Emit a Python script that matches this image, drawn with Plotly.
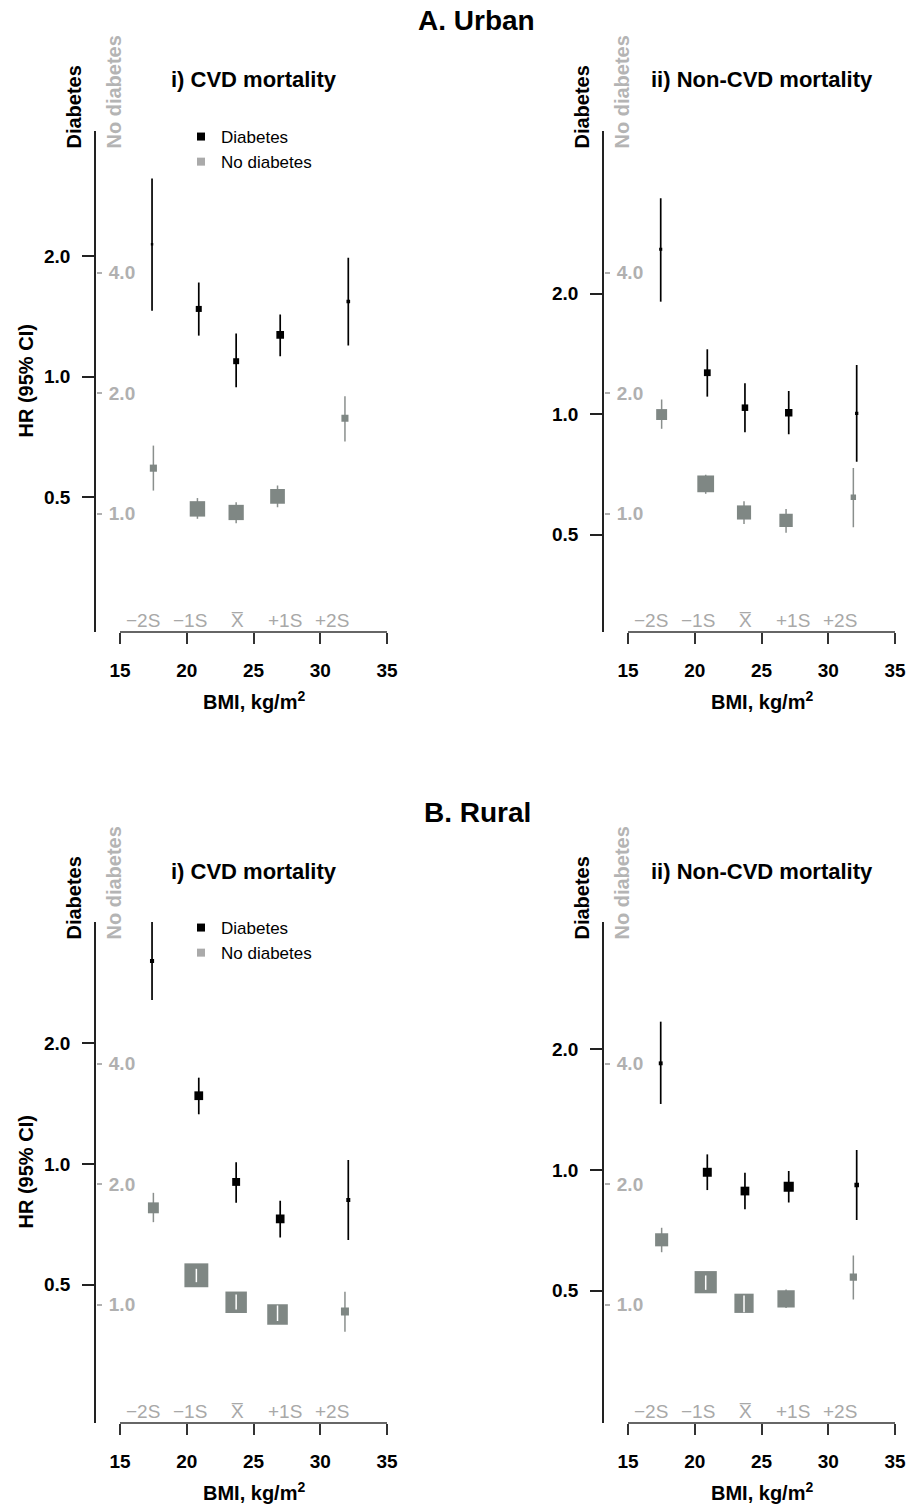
import math
import plotly.graph_objects as go

W, H = 910, 1506

# ---------------- Data ----------------
# A. Urban – i) CVD mortality
a1_dm_x = [17.4, 20.9, 23.7, 27.0, 32.1]
a1_dm_hr = [2.14, 1.475, 1.092, 1.271, 1.539]
a1_dm_lo = [1.46, 1.265, 0.94, 1.124, 1.195]
a1_dm_hi = [3.125, 1.717, 1.28, 1.429, 1.98]
a1_nd_x = [17.5, 20.8, 23.7, 26.8, 31.85]
a1_nd_hr = [1.298, 1.027, 1.006, 1.103, 1.73]
a1_nd_lo = [1.141, 0.970, 0.946, 1.037, 1.513]
a1_nd_hi = [1.478, 1.093, 1.067, 1.175, 1.963]

# A. Urban – ii) Non-CVD mortality
a2_dm_x = [17.45, 20.94, 23.76, 27.04, 32.13]
a2_dm_hr = [2.579, 1.268, 1.037, 1.0075, 1.004]
a2_dm_lo = [1.908, 1.105, 0.90, 0.89, 0.76]
a2_dm_hi = [3.458, 1.451, 1.193, 1.141, 1.326]
a2_nd_x = [17.52, 20.82, 23.69, 26.84, 31.88]
a2_nd_hr = [1.767, 1.186, 1.006, 0.961, 1.098]
a2_nd_lo = [1.628, 1.12, 0.942, 0.895, 0.924]
a2_nd_hi = [1.927, 1.25, 1.073, 1.027, 1.30]

# B. Rural – i) CVD mortality
b1_dm_x = [17.4, 20.9, 23.7, 27.0, 32.1]
b1_dm_hr = [3.215, 1.481, 0.902, 0.729, 0.813]
b1_dm_lo = [2.57, 1.331, 0.80, 0.655, 0.646]
b1_dm_hi = [4.02, 1.643, 1.01, 0.81, 1.023]
b1_nd_x = [17.5, 20.72, 23.7, 26.8, 31.85]
b1_nd_hr = [1.744, 1.183, 1.013, 0.944, 0.961]
b1_nd_lo = [1.606, 1.137, 0.972, 0.909, 0.855]
b1_nd_hi = [1.901, 1.228, 1.059, 0.994, 1.076]

# B. Rural – ii) Non-CVD mortality
b2_dm_x = [17.45, 20.94, 23.76, 27.04, 32.13]
b2_dm_hr = [1.847, 0.987, 0.886, 0.908, 0.917]
b2_dm_lo = [1.462, 0.891, 0.798, 0.829, 0.75]
b2_dm_hi = [2.347, 1.094, 0.985, 0.994, 1.122]
b2_nd_x = [17.52, 20.82, 23.69, 26.84, 31.88]
b2_nd_hr = [1.451, 1.137, 1.007, 1.033, 1.17]
b2_nd_lo = [1.351, 1.088, 0.957, 0.98, 1.029]
b2_nd_hi = [1.555, 1.182, 1.053, 1.09, 1.326]

# BMI distribution markers (mean ± SD)
sd_x = [16.7, 20.25, 23.8, 27.35, 30.9]
sd_labels = ["\u22122S", "\u22121S", "X\u0305", "+1S", "+2S"]

x_ticks = [15, 20, 25, 30, 35]
dm_ticks = [0.5, 1.0, 2.0]
dm_ticktext = ["0.5", "1.0", "2.0"]
nd_ticks = [1.0, 2.0, 4.0]
nd_ticktext = ["1.0", "2.0", "4.0"]

# ---------------- Styling / layout ----------------
FONT = "Liberation Sans, Arial, sans-serif"
BLACK = "#000000"
BOX_GREY = "#7F8784"
CI_GREY = "#8A8F8D"
LIGHT_GREY = "#B0B0B0"
PPD = 400.3            # pixels per decade on the y axes
K_SIZE = 1.84          # box side ~ 1 / SE

X_RANGE = [13.2022, 36.0]
PX_PER_UNIT = 13.35


def fx(p):
    return p / W


def fy(p):
    return 1 - p / H


panels = [
    dict(left=96, top=131, bottom=632, yr=[-0.63828, 0.61328], gr=[-0.2960, 0.9556],
         dm=(a1_dm_x, a1_dm_hr, a1_dm_lo, a1_dm_hi), nd=(a1_nd_x, a1_nd_hr, a1_nd_lo, a1_nd_hi),
         title="i) CVD mortality", legend="legend", ylab=True),
    dict(left=604, top=131, bottom=632, yr=[-0.5446, 0.70697], gr=[-0.2960, 0.9556],
         dm=(a2_dm_x, a2_dm_hr, a2_dm_lo, a2_dm_hi), nd=(a2_nd_x, a2_nd_hr, a2_nd_lo, a2_nd_hi),
         title="ii) Non-CVD mortality", legend=None, ylab=False),
    dict(left=96, top=922, bottom=1423, yr=[-0.647, 0.6045], gr=[-0.2960, 0.9556],
         dm=(b1_dm_x, b1_dm_hr, b1_dm_lo, b1_dm_hi), nd=(b1_nd_x, b1_nd_hr, b1_nd_lo, b1_nd_hi),
         title="i) CVD mortality", legend="legend2", ylab=True),
    dict(left=604, top=922, bottom=1423, yr=[-0.632, 0.6195], gr=[-0.2960, 0.9556],
         dm=(b2_dm_x, b2_dm_hr, b2_dm_lo, b2_dm_hi), nd=(b2_nd_x, b2_nd_hr, b2_nd_lo, b2_nd_hi),
         title="ii) Non-CVD mortality", legend=None, ylab=False),
]

fig = go.Figure()
layout = dict(
    width=W, height=H, margin=dict(l=0, r=0, t=0, b=0),
    paper_bgcolor="white", plot_bgcolor="white",
    font=dict(family=FONT, color=BLACK),
    showlegend=True,
)
annotations = []
shapes = []


def sizes(lo, hi):
    return [K_SIZE / math.log(h / l) for l, h in zip(lo, hi)]


def inside(lo, hi, sz):
    return [math.log10(h / l) * PPD < s - 1 for l, h, s in zip(lo, hi, sz)]


for i, p in enumerate(panels):
    n = i + 1
    g = i + 5
    xa = "x" if n == 1 else f"x{n}"
    ya = "y" if n == 1 else f"y{n}"
    ga = f"y{g}"
    xdom = [fx(p["left"]), fx(p["left"] + (X_RANGE[1] - X_RANGE[0]) * PX_PER_UNIT)]
    ydom = [fy(p["bottom"]), fy(p["top"])]

    layout["xaxis" if n == 1 else f"xaxis{n}"] = dict(
        domain=xdom, range=X_RANGE, anchor=ya, showgrid=False, zeroline=False, showline=False,
        tickvals=x_ticks, ticks="outside", ticklen=11, tickwidth=1.5, tickcolor="#333333",
        tickfont=dict(family=FONT, size=19, color=BLACK, weight="bold"), ticklabelstandoff=10,
    )
    layout["yaxis" if n == 1 else f"yaxis{n}"] = dict(
        domain=ydom, type="log", range=p["yr"], anchor=xa, showgrid=False, zeroline=False,
        showline=True, linecolor="#222222", linewidth=1.5,
        tickvals=dm_ticks, ticktext=dm_ticktext, ticks="outside", ticklen=12, tickwidth=1.5,
        tickcolor="#222222", tickfont=dict(family=FONT, size=19, color=BLACK, weight="bold"),
        ticklabelstandoff=8,
    )
    layout[f"yaxis{g}"] = dict(
        domain=ydom, type="log", range=p["gr"], overlaying=ya, anchor="free",
        position=xdom[0], side="right",
        showgrid=False, zeroline=False, showline=False,
        tickvals=nd_ticks, ticktext=nd_ticktext, ticks="outside", ticklen=5, tickwidth=1.5,
        tickcolor=LIGHT_GREY, ticklabelstandoff=3,
        tickfont=dict(family=FONT, size=19, color=LIGHT_GREY, weight="bold"),
    )

    # x axis line only from 15 to 35
    shapes.append(dict(type="line", xref=xa, yref=f"{ya} domain", x0=x_ticks[0], x1=x_ticks[-1],
                       y0=0, y1=0, line=dict(color="#333333", width=1.5)))

    # diabetes (black)
    dx, dhr, dlo, dhi = p["dm"]
    dsz = sizes(dlo, dhi)
    fig.add_trace(go.Scatter(
        x=dx, y=dhr, xaxis=xa, yaxis=ya, mode="markers", showlegend=False,
        marker=dict(symbol="square", size=dsz, color=BLACK, opacity=1, line=dict(width=0)),
        error_y=dict(type="data", symmetric=False,
                     array=[h - v for h, v in zip(dhi, dhr)],
                     arrayminus=[v - l for v, l in zip(dhr, dlo)],
                     color=BLACK, thickness=1.7, width=0),
        hoverinfo="skip"))

    # no diabetes (grey)
    nx, nhr, nlo, nhi = p["nd"]
    nsz = sizes(nlo, nhi)
    fig.add_trace(go.Scatter(
        x=nx, y=nhr, xaxis=xa, yaxis=ga, mode="markers", showlegend=False,
        marker=dict(symbol="square", size=nsz, color=BOX_GREY, opacity=1, line=dict(width=0)),
        error_y=dict(type="data", symmetric=False,
                     array=[h - v for h, v in zip(nhi, nhr)],
                     arrayminus=[v - l for v, l in zip(nhr, nlo)],
                     color=CI_GREY, thickness=1.5, width=0),
        hoverinfo="skip"))
    # white CI line where the CI lies within the box
    flag = inside(nlo, nhi, nsz)
    wx = [x for x, f in zip(nx, flag) if f]
    if wx:
        whr = [v for v, f in zip(nhr, flag) if f]
        wlo = [v for v, f in zip(nlo, flag) if f]
        whi = [v for v, f in zip(nhi, flag) if f]
        fig.add_trace(go.Scatter(
            x=wx, y=whr, xaxis=xa, yaxis=ga, mode="markers", showlegend=False,
            marker=dict(size=1, opacity=0),
            error_y=dict(type="data", symmetric=False,
                         array=[h - v for h, v in zip(whi, whr)],
                         arrayminus=[v - l for v, l in zip(whr, wlo)],
                         color="white", thickness=1.5, width=0),
            hoverinfo="skip"))

    # legend entries
    if p["legend"]:
        fig.add_trace(go.Scatter(x=[None], y=[None], xaxis=xa, yaxis=ya, mode="markers",
                                 name="Diabetes", legend=p["legend"],
                                 marker=dict(symbol="square", size=8, color=BLACK)))
        fig.add_trace(go.Scatter(x=[None], y=[None], xaxis=xa, yaxis=ya, mode="markers",
                                 name="No diabetes", legend=p["legend"],
                                 marker=dict(symbol="square", size=8, color="#AAAAAA")))
        layout[p["legend"]] = dict(
            x=fx(p["left"] + 85), y=fy(p["top"] - 12), xanchor="left", yanchor="top",
            bgcolor="rgba(0,0,0,0)", font=dict(family=FONT, size=17, color=BLACK),
            itemsizing="trace", tracegroupgap=0, borderwidth=0,
        )

    cx = p["left"] + (24 + 267 / 2)
    # panel title
    annotations.append(dict(text=f"<b>{p['title']}</b>", x=fx(cx), y=fy(p["top"] - 51),
                            xref="paper", yref="paper", showarrow=False,
                            xanchor="center", yanchor="middle",
                            font=dict(family=FONT, size=22, color=BLACK)))
    # vertical group labels
    annotations.append(dict(text="<b>Diabetes</b>", textangle=-90, x=fx(p["left"] - 23),
                            y=fy(p["top"] + 20), xref="paper", yref="paper", showarrow=False,
                            xanchor="center", yanchor="bottom",
                            font=dict(family=FONT, size=20, color=BLACK)))
    annotations.append(dict(text="<b>No diabetes</b>", textangle=-90, x=fx(p["left"] + 17),
                            y=fy(p["top"] + 20), xref="paper", yref="paper", showarrow=False,
                            xanchor="center", yanchor="bottom",
                            font=dict(family=FONT, size=20, color="#B4B4B4")))
    # SD labels
    for sx, st in zip(sd_x, sd_labels):
        annotations.append(dict(text=st, x=sx, y=fy(p["bottom"] - 12), xref=xa, yref="paper",
                                showarrow=False, xanchor="center", yanchor="middle",
                                font=dict(family=FONT, size=19, color="#A8A8A8")))
    # x-axis title
    annotations.append(dict(text="<b>BMI, kg/m<sup>2</sup></b>", x=fx(cx), y=fy(p["bottom"] + 68),
                            xref="paper", yref="paper", showarrow=False,
                            xanchor="center", yanchor="middle",
                            font=dict(family=FONT, size=20, color=BLACK)))
    if p["ylab"]:
        annotations.append(dict(text="<b>HR (95% CI)</b>", textangle=-90, x=fx(25),
                                y=fy((p["top"] + p["bottom"]) / 2), xref="paper", yref="paper",
                                showarrow=False, xanchor="center", yanchor="middle",
                                font=dict(family=FONT, size=20, color=BLACK)))

# section titles
annotations.append(dict(text="<b>A. Urban</b>", x=fx(476), y=fy(21), xref="paper", yref="paper",
                        showarrow=False, xanchor="center", yanchor="middle",
                        font=dict(family=FONT, size=28, color=BLACK)))
annotations.append(dict(text="<b>B. Rural</b>", x=fx(477), y=fy(812), xref="paper", yref="paper",
                        showarrow=False, xanchor="center", yanchor="middle",
                        font=dict(family=FONT, size=28, color=BLACK)))

layout["annotations"] = annotations
layout["shapes"] = shapes
fig.update_layout(**layout)
# remove the default page margin so the 910x1506 figure fills the window exactly
fig.write_html("out.html", config={"displayModeBar": False},
               post_script="document.body.style.margin='0px';")
